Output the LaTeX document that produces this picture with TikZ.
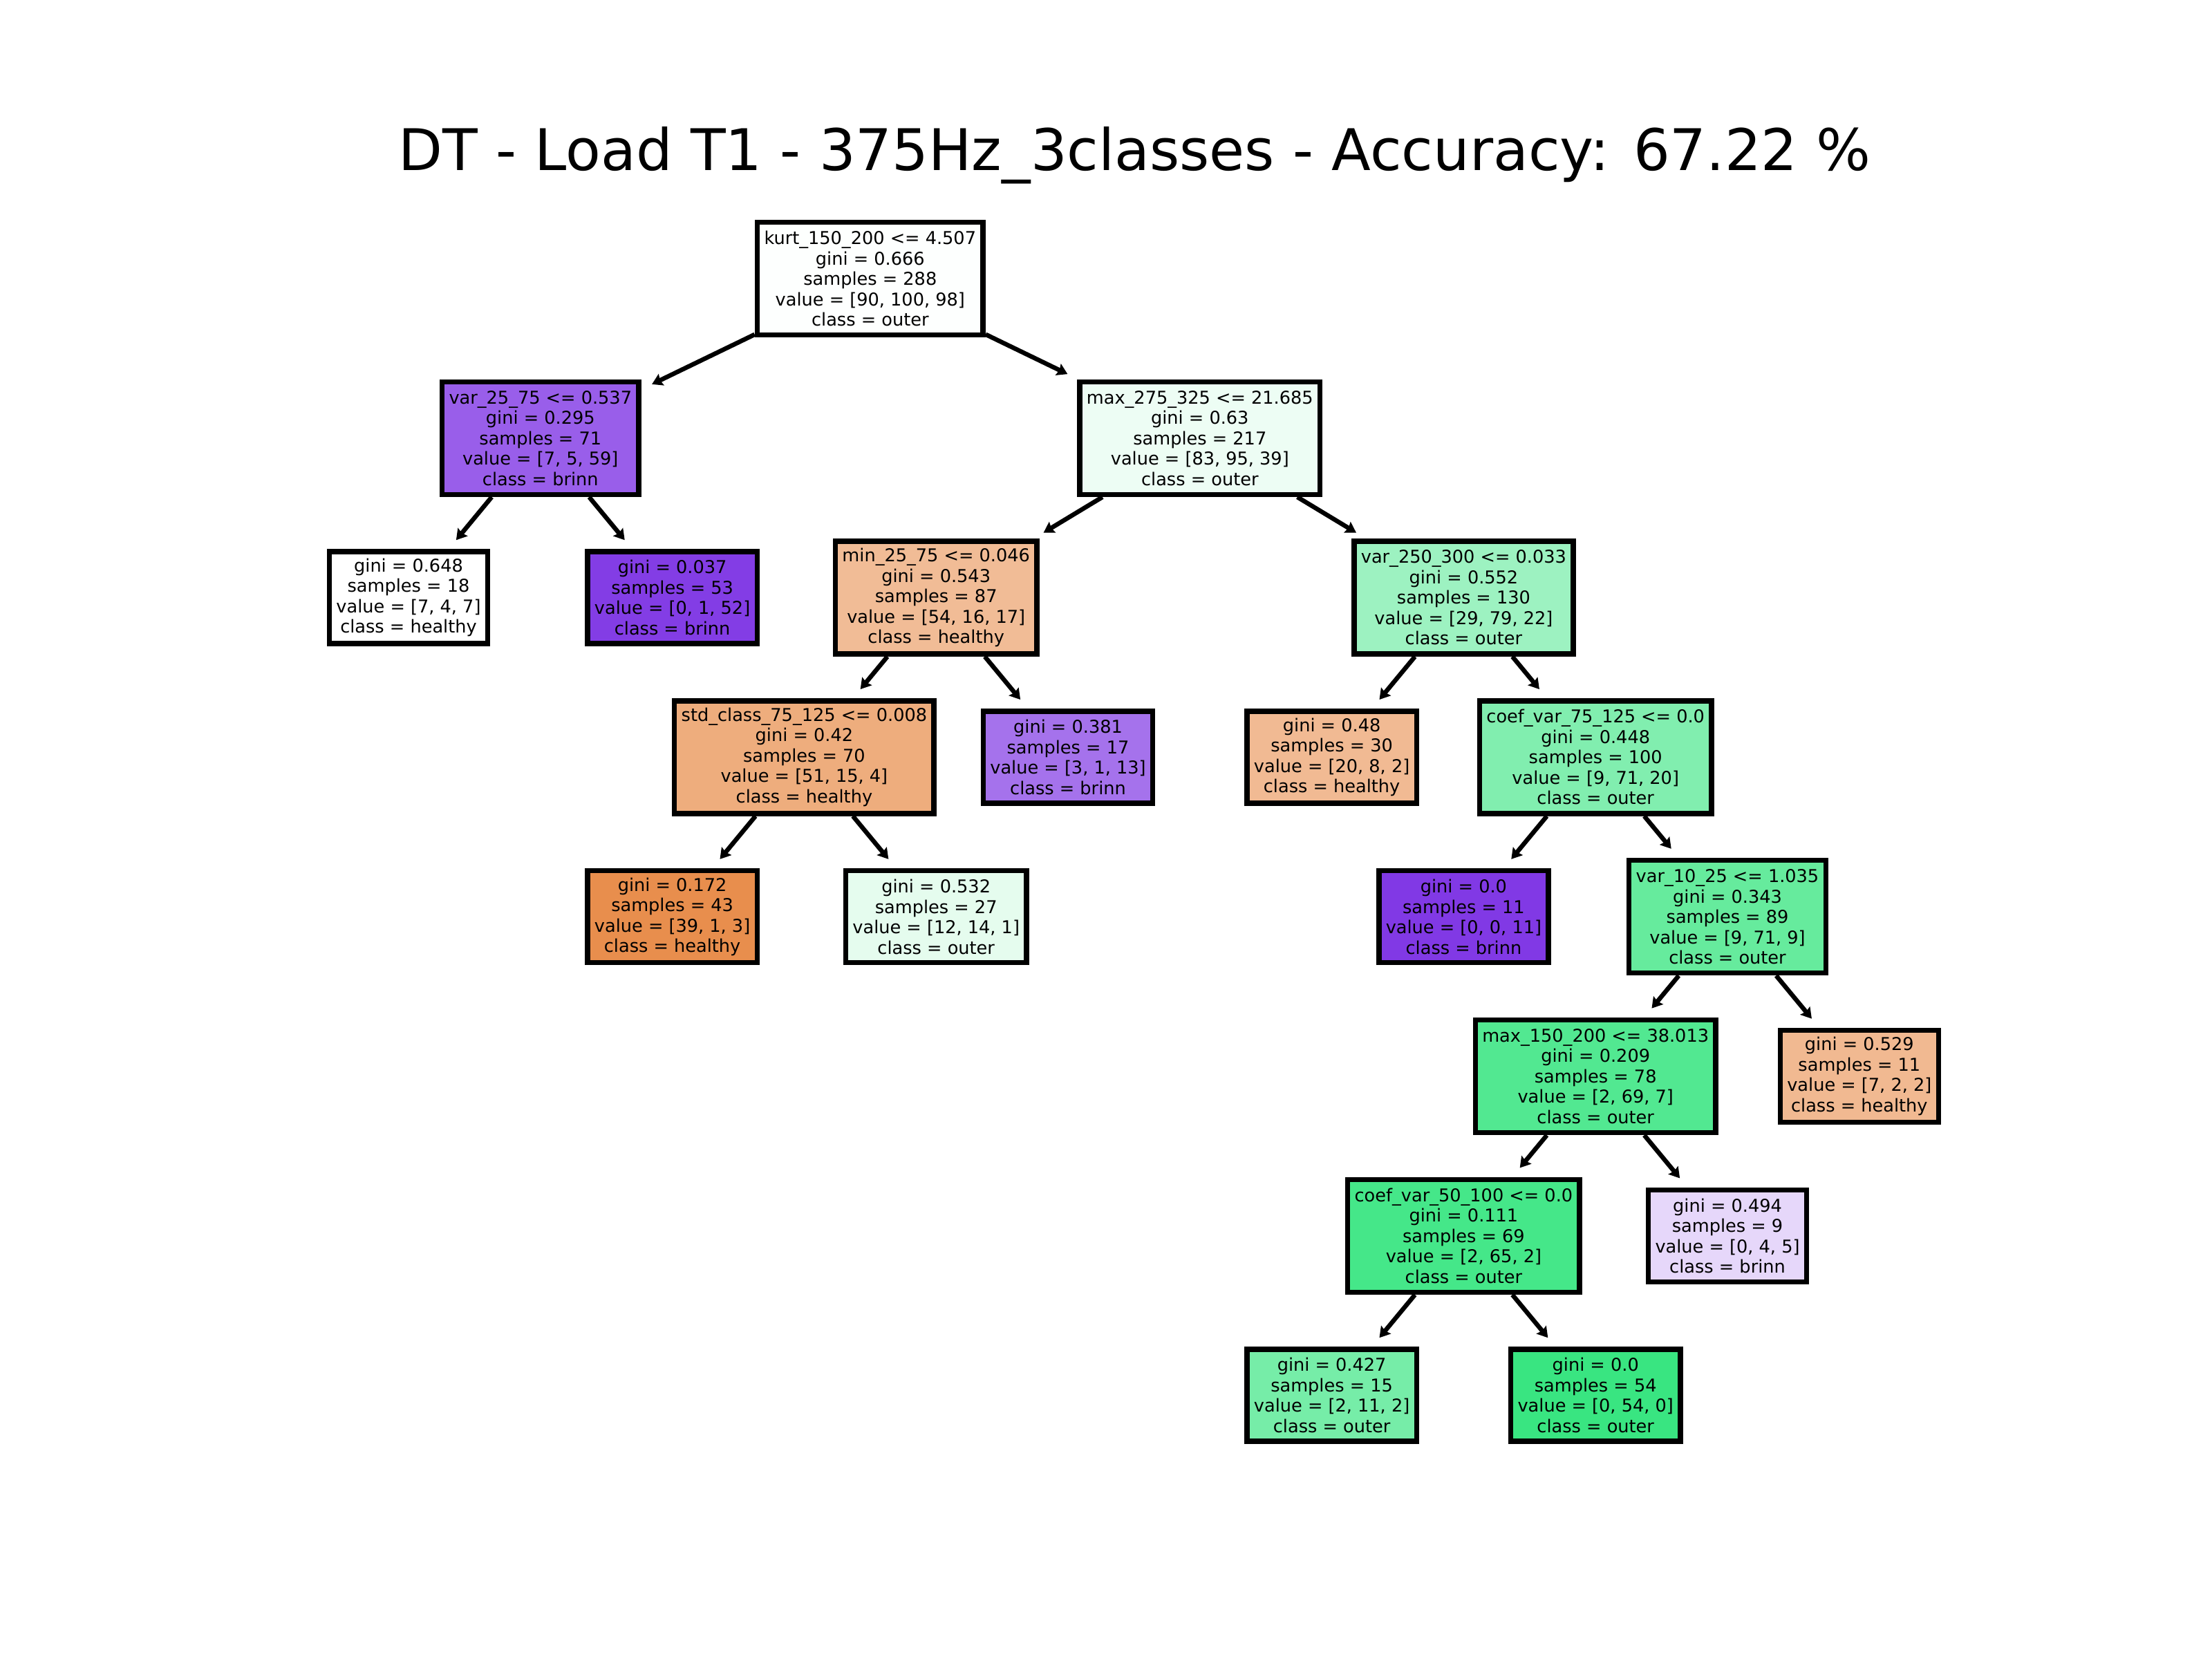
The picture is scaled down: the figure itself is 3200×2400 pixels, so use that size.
\documentclass[tikz,border=0pt]{standalone}
\usepackage{fontspec}
\setmainfont{DejaVu Sans}
\usetikzlibrary{arrows.meta}
\definecolor{hl}{HTML}{E58139}
\definecolor{ou}{HTML}{39E581}
\definecolor{br}{HTML}{8139E5}
\begin{document}
\begin{tikzpicture}[x=0.2pt,y=-0.2pt,
  box/.style={draw=black, line width=1.5pt, align=center, inner xsep=2.0pt, inner ysep=0pt,
    font=\fontsize{5.12pt}{5.9pt}\selectfont, text=black},
  split/.style={box, minimum height=32.6pt},
  leaf/.style={box, minimum height=26.6pt},
  arr/.style={line width=1.3pt, -{Stealth[length=3pt,width=3.6pt,inset=0.4pt]}, shorten >=3.4pt}]
\useasboundingbox (0,0) rectangle (3200,2400);
\node[anchor=base, font=\fontsize{16.6pt}{19.9pt}\selectfont] (title) at (1641,246)
  {DT - Load T1 - 375Hz\_3classes - Accuracy: 67.22 \%};
% depth 0
\node[split, fill=ou!1.05!white] (root) at (1258.8,403)
  {kurt\_150\_200 <= 4.507\\gini = 0.666\\samples = 288\\value = [90, 100, 98]\\class = outer};
% depth 1
\node[split, fill=br!81.25!white] (a) at (781.8,633.8)
  {var\_25\_75 <= 0.537\\gini = 0.295\\samples = 71\\value = [7, 5, 59]\\class = brinn};
\node[split, fill=ou!8.96!white] (b) at (1735.8,633.8)
  {max\_275\_325 <= 21.685\\gini = 0.63\\samples = 217\\value = [83, 95, 39]\\class = outer};
% depth 2
\node[leaf, fill=white] (a1) at (591,864.6)
  {gini = 0.648\\samples = 18\\value = [7, 4, 7]\\class = healthy};
\node[leaf, fill=br!98.1!white] (a2) at (972.6,864.6)
  {gini = 0.037\\samples = 53\\value = [0, 1, 52]\\class = brinn};
\node[split, fill=hl!52.86!white] (c) at (1354.2,864.6)
  {min\_25\_75 <= 0.046\\gini = 0.543\\samples = 87\\value = [54, 16, 17]\\class = healthy};
\node[split, fill=ou!49.5!white] (d) at (2117.4,864.6)
  {var\_250\_300 <= 0.033\\gini = 0.552\\samples = 130\\value = [29, 79, 22]\\class = outer};
% depth 3
\node[split, fill=hl!65.45!white] (e) at (1163.4,1095.4)
  {std\_class\_75\_125 <= 0.008\\gini = 0.42\\samples = 70\\value = [51, 15, 4]\\class = healthy};
\node[leaf, fill=br!71.43!white] (c2) at (1545,1095.4)
  {gini = 0.381\\samples = 17\\value = [3, 1, 13]\\class = brinn};
\node[leaf, fill=hl!54.55!white] (d1) at (1926.6,1095.4)
  {gini = 0.48\\samples = 30\\value = [20, 8, 2]\\class = healthy};
\node[split, fill=ou!63.75!white] (f) at (2308.2,1095.4)
  {coef\_var\_75\_125 <= 0.0\\gini = 0.448\\samples = 100\\value = [9, 71, 20]\\class = outer};
% depth 4
\node[leaf, fill=hl!90!white] (e1) at (972.6,1326.2)
  {gini = 0.172\\samples = 43\\value = [39, 1, 3]\\class = healthy};
\node[leaf, fill=ou!13.33!white] (e2) at (1354.2,1326.2)
  {gini = 0.532\\samples = 27\\value = [12, 14, 1]\\class = outer};
\node[leaf, fill=br] (f1) at (2117.4,1326.2)
  {gini = 0.0\\samples = 11\\value = [0, 0, 11]\\class = brinn};
\node[split, fill=ou!77.5!white] (g) at (2499,1326.2)
  {var\_10\_25 <= 1.035\\gini = 0.343\\samples = 89\\value = [9, 71, 9]\\class = outer};
% depth 5
\node[split, fill=ou!87.32!white] (h) at (2308.2,1557)
  {max\_150\_200 <= 38.013\\gini = 0.209\\samples = 78\\value = [2, 69, 7]\\class = outer};
\node[leaf, fill=hl!55.56!white] (g2) at (2689.8,1557)
  {gini = 0.529\\samples = 11\\value = [7, 2, 2]\\class = healthy};
% depth 6
\node[split, fill=ou!94.03!white] (i) at (2117.4,1787.8)
  {coef\_var\_50\_100 <= 0.0\\gini = 0.111\\samples = 69\\value = [2, 65, 2]\\class = outer};
\node[leaf, fill=br!20!white] (h2) at (2499,1787.8)
  {gini = 0.494\\samples = 9\\value = [0, 4, 5]\\class = brinn};
% depth 7
\node[leaf, fill=ou!69.23!white] (i1) at (1926.6,2018.6)
  {gini = 0.427\\samples = 15\\value = [2, 11, 2]\\class = outer};
\node[leaf, fill=ou] (i2) at (2308.2,2018.6)
  {gini = 0.0\\samples = 54\\value = [0, 54, 0]\\class = outer};
% edges
\draw[arr] (root) -- (a);
\draw[arr] (root) -- (b);
\draw[arr] (a) -- (a1);
\draw[arr] (a) -- (a2);
\draw[arr] (b) -- (c);
\draw[arr] (b) -- (d);
\draw[arr] (c) -- (e);
\draw[arr] (c) -- (c2);
\draw[arr] (d) -- (d1);
\draw[arr] (d) -- (f);
\draw[arr] (e) -- (e1);
\draw[arr] (e) -- (e2);
\draw[arr] (f) -- (f1);
\draw[arr] (f) -- (g);
\draw[arr] (g) -- (h);
\draw[arr] (g) -- (g2);
\draw[arr] (h) -- (i);
\draw[arr] (h) -- (h2);
\draw[arr] (i) -- (i1);
\draw[arr] (i) -- (i2);
\end{tikzpicture}
\end{document}
